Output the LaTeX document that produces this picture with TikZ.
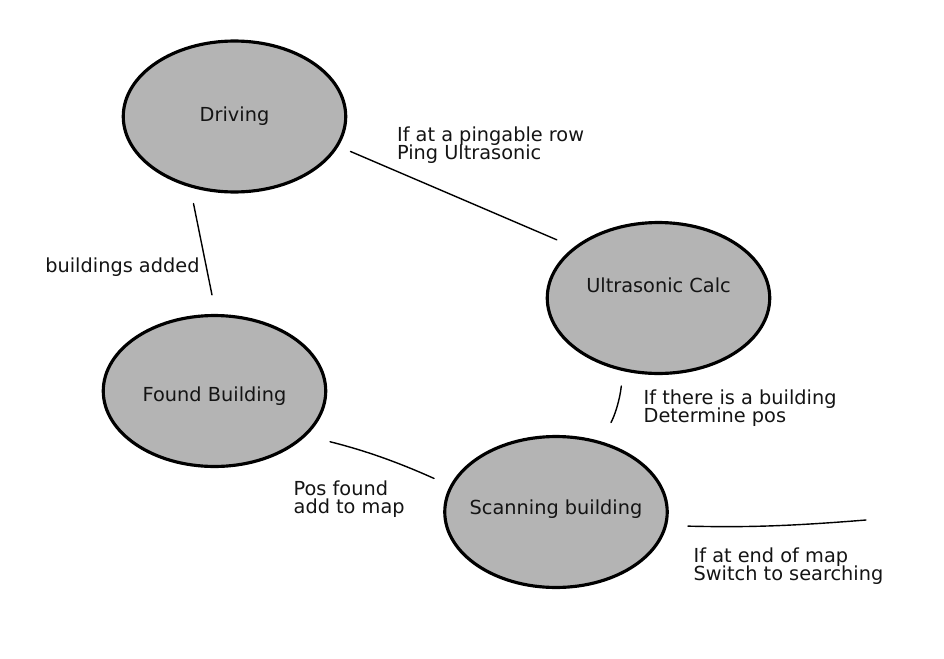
\documentclass[tikz,border=0pt]{standalone}
\usepackage{fontspec}
\setmainfont{DejaVu Sans}
\usepackage{xcolor}
\usepackage{tikz}
\usetikzlibrary{shapes.geometric}
\definecolor{statebg}{HTML}{B4B4B4}
\definecolor{ink}{HTML}{141414}
\newcommand\statefont{\fontsize{11}{11}\selectfont}
\newcommand\labfont{\fontsize{11}{10.3}\selectfont\lineskiplimit=-\maxdimen}
\tikzset{
  state/.style={ellipse, draw=black, fill=statebg, line width=1.8pt, inner ysep=0pt,
    inner xsep=-0.3cm, minimum width=4.45cm, minimum height=3.02cm, text=ink, font=\statefont},
  link/.style={draw=black, line width=0.8pt, line cap=round},
  lab/.style={anchor=base west, inner sep=0pt, align=left, text=ink, font=\labfont},
}

\begin{document}
\begin{tikzpicture}[x=0.02cm, y=-0.02cm]
  \useasboundingbox (0,0) rectangle (944,659);
  \node[state] (drv) at (234.5,116.5) {Driving};
  \node[state, text depth=0.53cm] (usc) at (658.5,298) {Ultrasonic Calc};
  \node[state, text height=0.49cm] (fnd) at (214.5,391) {Found Building};
  \node[state, text depth=0.19cm] (scn) at (556,512) {Scanning building};
  \coordinate (mapend) at (866,520);
  \draw[link, shorten <=0.26cm, shorten >=0.37cm] (drv.-16) -- (usc.149);
  \draw[link, shorten <=0.33cm, shorten >=0.39cm] (drv.-122) -- (fnd.89);
  \draw[link, shorten <=0.30cm, shorten >=0.43cm] (usc.-116) to[bend left=12] (scn.58);
  \draw[link, shorten <=0.49cm, shorten >=0.35cm] (fnd.-26) to[bend left=5] (scn.166);
  \draw[link, shorten <=0.42cm] (scn.-7) to[bend right=3] (mapend);
  \node[lab] (pingtxt) at (396.7,159.3) {If at a pingable row\\Ping Ultrasonic};
  \node[lab] (bldgtxt) at (643.3,422.7) {If there is a building\\Determine pos};
  \node[lab] (endtxt) at (693.3,580.7) {If at end of map\\Switch to searching};
  \node[lab] (postxt) at (293.3,513.3) {Pos found\\add to map};
  \node[lab] (addtxt) at (45,272.7) {buildings added};
\end{tikzpicture}
\end{document}
